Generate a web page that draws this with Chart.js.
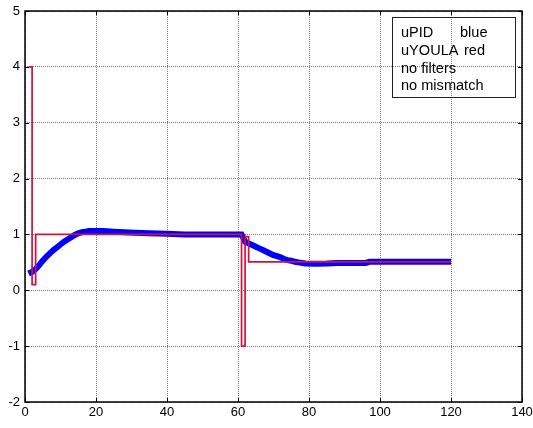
<!DOCTYPE html>
<html>
<head>
<meta charset="utf-8">
<script src="https://cdn.jsdelivr.net/npm/chart.js@4"></script>
<style>
    body { margin: 0; background: #fff; }
    #grafico { display: block; }
</style>
</head>
<body>
<canvas id="grafico" width="533" height="428"></canvas>
<script>
// sampled control signals (time in samples)
const tempoPID = [1, 2, 3, 4, 5, 6, 7, 8, 9, 10, 11, 12, 13, 14, 15, 16, 17, 18, 20, 22, 25, 28, 31, 35, 40, 45, 50, 55, 60, 61, 62, 63, 64, 65, 66, 67, 68, 69, 70, 71, 72, 73, 74, 75, 76, 77, 79, 82, 85, 88, 91, 94, 96, 97, 100, 105, 110, 115, 120];
const uPID = [0.30, 0.33, 0.38, 0.45, 0.53, 0.60, 0.66, 0.72, 0.77, 0.82, 0.87, 0.91, 0.95, 0.99, 1.02, 1.04, 1.05, 1.06, 1.06, 1.06, 1.05, 1.04, 1.03, 1.02, 1.01, 1.00, 1.00, 1.00, 1.00, 1.00, 0.87, 0.84, 0.81, 0.78, 0.75, 0.72, 0.69, 0.66, 0.63, 0.61, 0.59, 0.56, 0.54, 0.53, 0.51, 0.50, 0.48, 0.475, 0.48, 0.49, 0.49, 0.49, 0.49, 0.51, 0.51, 0.51, 0.51, 0.51, 0.51];
const tempoYOULA = [1, 2, 3, 61, 62, 63, 120];
const uYOULA = [4, 0.1, 1, -1, 0.96, 0.51, 0.51];
const ticksX = [0, 20, 40, 60, 80, 100, 120, 140];
const ticksY = [-2, -1, 0, 1, 2, 3, 4, 5];
const legenda = ["uPID", "blue", "uYOULA", "red", "no filters", "no mismatch"];

const fonte = '"Liberation Sans", Arial, sans-serif';

const pontos = (xs, ys) => xs.map((x, i) => ({ x: x, y: ys[i] }));

// axes box, inward ticks and the text box, drawn on top like in matlab
const caixaEixos = {
    id: 'caixaEixos',
    afterDraw(chart) {
        const { ctx, chartArea: a, scales } = chart;
        ctx.save();
        ctx.strokeStyle = '#000';
        ctx.lineWidth = 1;
        const t = 4;
        ctx.beginPath();
        ticksX.forEach(v => {
            const x = Math.round(scales.x.getPixelForValue(v)) + 0.5;
            ctx.moveTo(x, a.bottom); ctx.lineTo(x, a.bottom - t);
            ctx.moveTo(x, a.top); ctx.lineTo(x, a.top + t);
        });
        ticksY.forEach(v => {
            const y = Math.round(scales.y.getPixelForValue(v)) + 0.5;
            ctx.moveTo(a.left, y); ctx.lineTo(a.left + t, y);
            ctx.moveTo(a.right, y); ctx.lineTo(a.right - t, y);
        });
        ctx.stroke();
        ctx.lineWidth = 1.5;
        ctx.strokeRect(a.left, a.top, a.right - a.left, a.bottom - a.top);

        // text box
        const bx = a.right - 130, by = a.top + 6;
        ctx.lineWidth = 1;
        ctx.strokeStyle = '#222';
        ctx.strokeRect(bx + 0.5, by + 0.5, 123, 80);
        ctx.fillStyle = '#000';
        ctx.font = '14px ' + fonte;
        ctx.textBaseline = 'alphabetic';
        const linha = (txt, x, y) => {
            ctx.save();
            ctx.translate(x, y);
            ctx.scale(1.04, 1);
            ctx.fillText(txt, 0, 0);
            ctx.restore();
        };
        const x0 = bx + 9;
        linha(legenda[0], x0, by + 20);
        linha(legenda[1], bx + 68, by + 20);
        linha(legenda[2], x0, by + 38);
        linha(legenda[3], bx + 72, by + 38);
        linha(legenda[4], x0, by + 56);
        linha(legenda[5], x0, by + 73);
        ctx.restore();
    }
};

const createChart = (id) => {
    const ctx = document.getElementById(id);
    new Chart(ctx, {
        type: 'line',
        data: {
            datasets: [{
                label: 'uYOULA',
                data: pontos(tempoYOULA, uYOULA),
                borderColor: 'rgb(208, 18, 64)',
                borderWidth: 1.7,
                stepped: 'before',
                pointRadius: 0,
                fill: false
            }, {
                label: 'uPID',
                data: pontos(tempoPID, uPID),
                borderColor: 'rgb(0, 0, 255)',
                borderWidth: 6,
                pointRadius: 0,
                tension: 0,
                fill: false
            }]
        },
        options: {
            responsive: false,
            animation: false,
            layout: {
                autoPadding: false,
                padding: { left: 0, top: 11, right: 11, bottom: 0 }
            },
            plugins: {
                legend: { display: false },
                tooltip: { enabled: false }
            },
            scales: {
                x: {
                    type: 'linear',
                    min: 0,
                    max: 140,
                    afterFit: s => { s.height = 26; s.paddingLeft = 0; s.paddingRight = 0; },
                    afterBuildTicks: s => { s.ticks = ticksX.map(v => ({ value: v })); },
                    border: { display: false, dash: [1, 1] },
                    grid: { color: '#7a7a7a', drawTicks: false, lineWidth: 1 },
                    ticks: { color: '#000', padding: 3, maxRotation: 0, autoSkip: false, font: { family: fonte, size: 13 } }
                },
                y: {
                    min: -2,
                    max: 5,
                    afterFit: s => { s.width = 25; s.paddingTop = 0; s.paddingBottom = 0; },
                    afterBuildTicks: s => { s.ticks = ticksY.map(v => ({ value: v })); },
                    border: { display: false, dash: [1, 1] },
                    grid: { color: '#7a7a7a', drawTicks: false, lineWidth: 1 },
                    ticks: { color: '#000', padding: 5, autoSkip: false, font: { family: fonte, size: 13 } }
                }
            }
        },
        plugins: [caixaEixos]
    });
}

createChart('grafico');
</script>
</body>
</html>
